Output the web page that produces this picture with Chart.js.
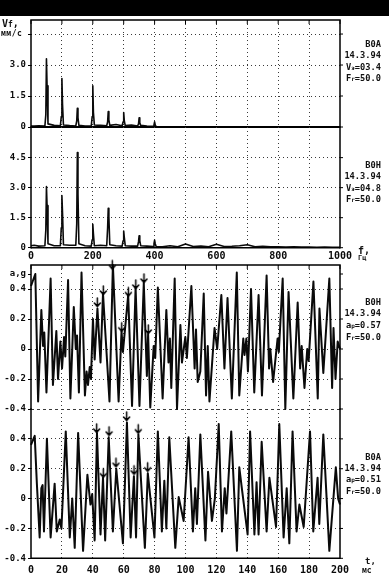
<!DOCTYPE html>
<html><head><meta charset="utf-8">
<script src="https://cdn.jsdelivr.net/npm/chart.js@4.4.1/dist/chart.umd.min.js"></script>
<style>
html,body{margin:0;padding:0;background:#fff;}
#wrap{position:relative;width:389px;height:580px;overflow:hidden;background:#fff;font-family:'DejaVu Sans Mono',monospace;color:#111;}
#wrap canvas{position:absolute;left:0;top:0;}
.band{position:absolute;left:0;top:0;width:389px;height:16px;background:#000;}
.ann{position:absolute;right:8px;text-align:right;font-size:8.7px;line-height:11.4px;white-space:nowrap;font-weight:bold;}
.s{font-size:6px;}
.lbl{position:absolute;white-space:nowrap;line-height:1;font-weight:bold;}
</style></head><body>
<div id="wrap">
  <div class="band"></div>
  <canvas id="c1" width="389" height="580"></canvas>
  <canvas id="c2" width="389" height="580"></canvas>
  <canvas id="c3" width="389" height="580"></canvas>
  <canvas id="c4" width="389" height="580"></canvas>
  <div class="lbl" style="left:2px;top:19px;font-size:10px;">V<span style="font-size:8px">f</span>,</div>
  <div class="lbl" style="left:1px;top:30px;font-size:8px;letter-spacing:0.5px;">мм/с</div>
  <div class="ann" style="top:39px;">В0А<br>14.3.94<br>V<span class="s">э</span>=03.4<br>F<span class="s">r</span>=50.0</div>
  <div class="ann" style="top:160px;">В0Н<br>14.3.94<br>V<span class="s">э</span>=04.8<br>F<span class="s">r</span>=50.0</div>
  <div class="ann" style="top:296.5px;line-height:11.8px;">В0Н<br>14.3.94<br>a<span class="s">р</span>=0.57<br>F<span class="s">r</span>=50.0</div>
  <div class="ann" style="top:451.5px;">В0А<br>14.3.94<br>a<span class="s">р</span>=0.51<br>F<span class="s">r</span>=50.0</div>
  <div class="lbl" style="left:358px;top:246px;font-size:10px;">f,</div>
  <div class="lbl" style="left:358px;top:255px;font-size:7px;">Гц</div>
  <div class="lbl" style="left:365px;top:557px;font-size:9px;">t,</div>
  <div class="lbl" style="left:362px;top:567px;font-size:8px;">мс</div>
</div>
<script>
// ---- data ----
const freqHz = [0,10,25, 45,48,50,52,55,75, 95,98,100,102,105,125, 145,148,150,152,155,175,
  195,198,200,202,205,225, 245,248,250,252,255,275, 295,298,300,302,305,325,
  345,348,350,352,355,375, 395,398,400,402,405,425,
  450,475,500,525,550,575,600,625,650,675,700,725,750,775,800,825,850,875,900,925,950,975,1000];
const velB0A = [0.05,0.05,0.06,
  0.05,0.6,3.3,2.0,0.15,0.08,
  0.06,0.5,2.35,1.1,0.1,0.07,
  0.05,0.3,0.9,0.45,0.08,0.05,
  0.05,0.5,2.0,0.7,0.1,0.08,
  0.06,0.25,0.75,0.35,0.08,0.12,
  0.06,0.25,0.7,0.3,0.07,0.1,
  0.05,0.15,0.45,0.2,0.08,0.05,
  0.03,0.1,0.25,0.1,0.02,0,
  0,0,0,0,0,0,0,0,0,0,0,0,0,0,0,0,0,0,0,0,0,0,0];
const velB0H = [0.1,0.12,0.08,
  0.1,0.9,3.05,2.1,0.2,0.1,
  0.1,1.0,2.6,1.75,0.15,0.12,
  0.12,1.2,4.75,2.7,0.2,0.1,
  0.08,0.4,1.17,0.7,0.1,0.12,
  0.1,1.0,1.97,1.55,0.15,0.1,
  0.08,0.35,0.83,0.5,0.1,0.08,
  0.08,0.3,0.6,0.35,0.1,0.08,
  0.06,0.2,0.38,0.2,0.06,0.05,
  0.1,0.05,0.18,0.06,0.08,0.05,0.17,0.06,0.07,0.1,0.15,0.05,0.07,0.04,0.05,0.03,0.04,0.03,0.03,0.02,0.03,0.02,0.02];

const timeB0H = [0,2.8,4.6,6.7,7.8,8.6,10.0,12.7,14.2,16.4,17.5,19.0,20.1,21.4,22.2,24.0,25.5,27.7,29.0,29.8,31.0,32.7,34.9,36.0,36.9,38.0,38.8,40.1,41.2,43.0,45.0,46.6,50.8,53.0,56.7,58.6,59.5,62.9,65.4,67.7,70.2,73.0,75.0,75.8,77.2,79.4,80.4,82.1,85.2,87.6,89.0,89.9,90.8,93.0,94.5,96.7,97.7,99.9,100.9,103.8,105.9,106.8,107.9,109.6,111.8,113.3,114.4,115.5,118.8,120.5,123.2,125.2,127.2,130.0,133.2,134.8,137.4,138.2,139.4,140.4,142.4,144.5,147.3,149.5,152.5,154.1,154.9,156.7,159.6,160.4,162.9,164.6,166.7,169.8,172.6,174.2,175.2,177.0,178.8,179.7,182.8,185.6,186.7,189.2,193.1,194.9,195.8,197.1,198.5,200];
const accB0H = [0.42,0.50,-0.35,0.26,0.02,0.11,-0.29,0.47,-0.24,0.12,-0.20,0.05,-0.13,0.08,-0.05,0.46,-0.33,0.28,0.00,0.09,-0.29,0.51,-0.31,-0.15,-0.24,-0.12,-0.20,0.20,-0.07,0.27,-0.09,0.37,-0.35,0.56,-0.35,0.12,-0.02,0.36,-0.38,0.41,-0.38,0.44,-0.18,0.10,-0.39,0.02,-0.06,0.41,-0.33,0.26,-0.09,0.07,-0.26,0.47,-0.40,0.16,-0.09,0.08,-0.06,0.42,-0.13,0.13,-0.22,-0.15,0.37,-0.31,0.02,-0.35,0.14,0.00,0.36,-0.13,0.34,-0.33,0.51,-0.31,0.07,-0.04,0.07,-0.15,0.40,-0.29,0.36,-0.31,0.49,-0.13,0.00,-0.22,0.07,-0.02,0.47,-0.40,0.38,-0.33,0.31,-0.13,0.02,-0.26,0.00,-0.08,0.45,-0.33,0.27,-0.16,0.47,-0.26,0.14,-0.20,0.05,0.00];

const timeB0A = [0,2.4,3.8,5.6,6.7,7.5,8.4,10.3,12.7,15.3,16.7,18.6,19.7,22.5,25.1,26.7,28.3,30.5,33.7,36.5,38.5,39.6,41.2,42.7,45.0,46.6,48.0,50.3,53.0,55.2,59.5,62.1,64.5,66.6,68.0,69.5,73.7,75.6,79.9,82.1,84.7,86.3,87.6,89.5,93.4,95.6,98.8,102.0,104.8,106.3,107.4,109.6,112.9,114.6,117.1,119.0,121.5,123.6,125.4,126.5,129.6,133.3,134.8,136.7,140.2,141.8,144.6,146.0,147.3,149.3,152.5,154.3,158.6,160.7,163.5,165.5,167.2,169.3,171.9,173.7,176.5,180.6,182.7,185.5,186.6,189.2,193.1,197.3,198.8,200];
const accB0A = [0.36,0.42,0.10,-0.26,0.07,0.09,-0.22,0.40,-0.26,0.10,-0.22,-0.14,-0.20,0.45,-0.26,0.00,-0.33,0.44,-0.35,0.16,-0.04,0.03,-0.28,0.44,-0.24,0.14,-0.28,0.41,-0.22,0.20,-0.30,0.51,-0.26,0.15,-0.26,0.43,-0.33,0.17,-0.26,0.45,-0.22,0.12,-0.20,0.41,-0.33,0.01,-0.15,0.41,-0.22,0.07,-0.17,0.43,-0.28,0.18,-0.15,0.00,0.50,-0.22,0.07,-0.10,0.45,-0.35,0.21,0.05,-0.24,0.45,-0.24,0.11,-0.24,0.38,-0.22,0.14,-0.19,0.50,-0.26,0.07,-0.30,0.45,-0.22,-0.04,-0.19,0.45,-0.22,0.14,-0.17,0.43,-0.35,0.21,0.00,-0.04];

const arrowTimeB0H = [42.9,46.8,52.6,58.7,63.0,67.8,73.1,75.9];
const arrowAccB0H  = [0.28,0.36,0.53,0.115,0.35,0.40,0.44,0.10];
const arrowTimeB0A = [42.5,46.8,50.5,55.0,61.9,66.7,69.4,75.5];
const arrowAccB0A  = [0.44,0.14,0.42,0.21,0.52,0.16,0.435,0.18];

const freqTicks = [0,100,200,300,400,500,600,700,800,900,1000];
const freqTickLabels = ['0','','200','','400','','600','','800','','1000'];
const timeTicks = [0,20,40,60,80,100,120,140,160,180,200];
const timeTickLabels = ['0','20','40','60','80','100','120','140','160','180','200'];
const velTicks = [0,1.5,3.0,4.5];
const velLabelsA = ['0','1.5','3.0',''];
const velLabelsB = ['0','1.5','3.0','4.5'];
const accTicksA = [-0.4,-0.2,0,0.2,0.4,0.5];
const accLabelsA = ['-0.4','-0.2','0','0.2','0.4','a,g'];
const accTicksB = [-0.4,-0.2,0,0.2,0.4];
const accLabelsB = ['-0.4','-0.2','0','0.2','0.4'];

// ---- drawing ----
const FONT = 'DejaVu Sans Mono';
const INK = '#0a0a0a';
const GRID = '#3a3a3a';

const framePlugin = {
  id: 'frame',
  afterDraw(chart, args, o) {
    const {ctx, chartArea: a} = chart;
    ctx.save();
    ctx.strokeStyle = '#000';
    ctx.lineWidth = 1.5;
    ctx.beginPath();
    ctx.moveTo(a.left, a.top - 0.75); ctx.lineTo(a.left, a.bottom + 0.75);
    ctx.moveTo(a.right, a.top - 0.75); ctx.lineTo(a.right, a.bottom + 0.75);
    if (o.top) { ctx.moveTo(a.left, a.top); ctx.lineTo(a.right, a.top); }
    ctx.stroke();
    if (o.bottom) {
      ctx.lineWidth = o.bottomWidth || 1.5;
      ctx.beginPath(); ctx.moveTo(a.left, a.bottom); ctx.lineTo(a.right, a.bottom); ctx.stroke();
    }
    ctx.lineWidth = 1;
    ctx.beginPath();
    const ys = chart.scales.y;
    ys.ticks.forEach(t => { const y = ys.getPixelForValue(t.value); ctx.moveTo(a.right, y); ctx.lineTo(a.right + 3, y); });
    if (o.top) {
      const xs = chart.scales.x;
      xs.ticks.forEach(t => { const x = xs.getPixelForValue(t.value); ctx.moveTo(x, a.top); ctx.lineTo(x, a.top + 4); });
    }
    ctx.stroke();
    ctx.restore();
  }
};

function arrowImage() {
  const c = document.createElement('canvas');
  c.width = 9; c.height = 22;
  const g = c.getContext('2d');
  g.strokeStyle = '#000'; g.lineWidth = 1.5; g.lineCap = 'round';
  g.beginPath();
  g.moveTo(4.5, 2); g.lineTo(4.5, 10.5);
  g.moveTo(1.5, 7); g.lineTo(4.5, 10.5); g.lineTo(7.5, 7);
  g.stroke();
  return c;
}
const ARROW = arrowImage();

function pts(xs, ys) { return xs.map((x, i) => ({x: x, y: ys[i]})); }

function makeChart(id, o) {
  const datasets = [{
    data: pts(o.xs, o.ys), borderColor: INK, borderWidth: o.lw, pointRadius: 0,
    tension: 0, clip: false, borderJoinStyle: 'round', order: 1
  }];
  if (o.arrows) datasets.push({
    type: 'scatter', data: pts(o.arrows[0], o.arrows[1]), pointStyle: ARROW,
    pointRadius: 3, clip: false, order: -1
  });
  return new Chart(document.getElementById(id), {
    type: 'line',
    data: {datasets},
    options: {
      responsive: false, animation: false, devicePixelRatio: 1, events: [],
      layout: {padding: {left: 0, right: 49, top: o.top, bottom: o.bottom}},
      plugins: {legend: {display: false}, tooltip: {enabled: false}, frame: o.frame},
      scales: {
        x: {
          type: 'linear', min: o.xmin, max: o.xmax,
          afterBuildTicks: ax => { ax.ticks = o.xticks.map(v => ({value: v})); },
          afterFit: ax => { ax.height = o.xh; },
          ticks: {display: o.xlabels !== null, autoSkip: false, maxRotation: 0, minRotation: 0,
            padding: o.xpad || 0, color: INK, font: {family: FONT, size: 10, weight: 'bold'},
            callback: (v, i) => o.xlabels ? o.xlabels[i] : ''},
          grid: {drawTicks: false, lineWidth: 1,
            color: c => (c.tick && (c.tick.value === o.xmin || c.tick.value === o.xmax)) ? 'rgba(0,0,0,0)' : GRID},
          border: {display: false, dash: [1, 3]}
        },
        y: {
          min: o.ymin, max: o.ymax,
          afterBuildTicks: ax => { ax.ticks = o.yticks.map(v => ({value: v})); },
          afterFit: ax => { ax.width = 31; },
          ticks: {autoSkip: false, padding: 2, color: INK, font: {family: FONT, size: 9, weight: 'bold'},
            callback: (v, i) => o.ylabels[i]},
          grid: {drawTicks: true, tickLength: 3, tickColor: '#000', tickWidth: 1, tickBorderDash: [], lineWidth: 1,
            color: c => (c.tick && o.noGrid.includes(c.tick.value)) ? 'rgba(0,0,0,0)' : GRID},
          border: {display: false, dash: c => (c.tick && o.dashedAt === c.tick.value) ? [3, 3] : [1, 3]}
        }
      }
    },
    plugins: [framePlugin]
  });
}

// Spectrum, point В0А (velocity)
makeChart('c1', {xs: freqHz, ys: velB0A, lw: 1.6, top: 20, bottom: 453, xmin: 0, xmax: 1000,
  xticks: freqTicks, xlabels: null, xh: 0, ymin: 0, ymax: 5.18, yticks: velTicks, ylabels: velLabelsA,
  noGrid: [0], frame: {top: true, bottom: true, bottomWidth: 2}});
// Spectrum, point В0Н (velocity)
makeChart('c2', {xs: freqHz, ys: velB0H, lw: 1.6, top: 127, bottom: 315, xmin: 0, xmax: 1000,
  xticks: freqTicks, xlabels: freqTickLabels, xh: 17.3, xpad: 3, ymin: 0, ymax: 6.03, yticks: velTicks, ylabels: velLabelsB,
  noGrid: [0], frame: {top: false, bottom: true}});
// Time signal, point В0Н (acceleration)
makeChart('c3', {xs: timeB0H, ys: accB0H, lw: 2, top: 265, bottom: 171, xmin: 0, xmax: 200,
  xticks: timeTicks, xlabels: null, xh: 0, ymin: -0.4, ymax: 0.56, yticks: accTicksA, ylabels: accLabelsA,
  noGrid: [0.5], dashedAt: -0.4, arrows: [arrowTimeB0H, arrowAccB0H], frame: {top: true, bottom: false}});
// Time signal, point В0А (acceleration)
makeChart('c4', {xs: timeB0A, ys: accB0A, lw: 2, top: 409, bottom: 0, xmin: 0, xmax: 200,
  xticks: timeTicks, xlabels: timeTickLabels, xh: 21.7, xpad: 6, ymin: -0.4, ymax: 0.6, yticks: accTicksB, ylabels: accLabelsB,
  noGrid: [-0.4], arrows: [arrowTimeB0A, arrowAccB0A], frame: {top: false, bottom: true}});
</script>
</body></html>
